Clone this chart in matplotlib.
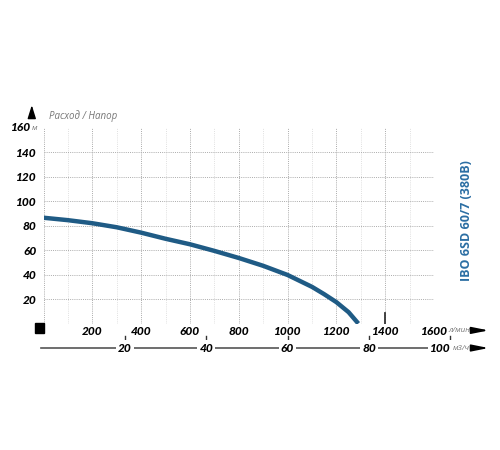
import matplotlib.pyplot as plt
import numpy as np

# pump curve
flow = [0, 100, 200, 300, 400, 500, 600, 700, 800, 900, 1000, 1100, 1150, 1200, 1250, 1290]
head = [86.5, 84.5, 82, 78.7, 74.3, 69.3, 64.8, 59.4, 53.6, 47.2, 39.7, 30.0, 24.0, 17.5, 9.3, 0]

x_ticks = [200, 400, 600, 800, 1000, 1200, 1400, 1600]
y_ticks = [20, 40, 60, 80, 100, 120, 140]
m3h_ticks = [20, 40, 60, 80, 100]
title = "IBO 6SD 60/7 (380В)"

FONT = "Open Sans"
NUMFONT = "Lato"
BLUE = "#1f5b85"
LAB = dict(fontfamily=NUMFONT, fontweight="black", fontstyle="italic", fontsize=8.6)
UNIT = dict(fontfamily=FONT, fontstyle="italic", fontsize=5.8, color="#777777")

fig = plt.figure(figsize=(5, 4.5), dpi=100)
ax = fig.add_axes([0.087, 0.281, 0.781, 0.435])
ax.set_xlim(0, 1600)
ax.set_ylim(0, 160)
for s in ax.spines.values():
    s.set_visible(False)

# grid
for xv in range(100, 1600, 200):
    ax.axvline(xv, color="#e0e0e0", lw=0.7, ls=(0, (1, 1.2)), zorder=1)
for xv in range(0, 1601, 200):
    ax.axvline(xv, color="#ababab", lw=0.7, ls=(0, (1, 1.2)), zorder=1)
for yv in range(0, 141, 20):
    ax.axhline(yv, color="#ababab", lw=0.7, ls=(0, (1, 1.2)), zorder=1)

ax.plot(flow, head, color=BLUE, lw=3.2, solid_capstyle="butt", zorder=3)

# marker at 1400
ax.plot([1400, 1400], [0, 9], color="#333333", lw=1.3, zorder=2)

ax.set_xticks(x_ticks)
ax.set_xticklabels([str(v) for v in x_ticks])
ax.set_yticks(y_ticks)
ax.set_yticklabels([str(v) for v in y_ticks])
ax.tick_params(length=0)
for lab in ax.get_xticklabels() + ax.get_yticklabels():
    lab.set_fontfamily(NUMFONT)
    lab.set_fontweight("black")
    lab.set_fontstyle("italic")
    lab.set_fontsize(8.6)
ax.tick_params(axis="y", pad=5)
ax.tick_params(axis="x", pad=2)

tr = ax.transAxes
# 160 label with unit
ax.text(-0.033, 1.0, "160", transform=tr, ha="right", va="center", **LAB)
ax.text(-0.031, 0.995, "м", transform=tr, ha="left", va="center", **UNIT)

# top label and up arrow
ax.annotate("", xy=(-0.03, 1.13), xytext=(-0.03, 1.065), xycoords=tr,
            arrowprops=dict(arrowstyle="-|>,head_length=0.8,head_width=0.25",
                            color="black", lw=1), annotation_clip=False)
ax.text(0.015, 1.058, "Расход / Напор", transform=tr, ha="left", va="center",
        fontsize=7, fontfamily=FONT, fontstyle="italic", color="#777777")

# square at origin
fig.patches.append(plt.Rectangle((35 / 500, 1 - 333 / 450), 9 / 500, 10 / 450,
                                 transform=fig.transFigure, color="black"))

# l/min unit and arrow
ax.text(1.036, -0.035, "л/мин", transform=tr, ha="left", va="center", **UNIT)
ax.annotate("", xy=(1.14, -0.035), xytext=(1.1, -0.035), xycoords=tr,
            arrowprops=dict(arrowstyle="-|>,head_length=1.0,head_width=0.2",
                            color="black", lw=1.2, shrinkA=0, shrinkB=0),
            annotation_clip=False)

# second scale in m3/h
yb = -0.125
ax.plot([-0.007, 1.09], [yb, yb], transform=tr, color="#555555", lw=1.2, clip_on=False)
for i, v in enumerate(m3h_ticks):
    xf = v * 1000 / 60 / 1600
    ax.plot([xf, xf], [yb + 0.045, yb + 0.06], transform=tr, color="#333333",
            lw=1, clip_on=False)
    last = i == len(m3h_ticks) - 1
    ax.text(xf, yb, str(v), transform=tr, ha="right" if last else "center",
            va="center", bbox=dict(facecolor="white", edgecolor="none", pad=1.5), **LAB)
ax.text(1.049, yb, "м3/ч", transform=tr, ha="left", va="center",
        bbox=dict(facecolor="white", edgecolor="none", pad=1.0), **UNIT)
ax.annotate("", xy=(1.14, yb), xytext=(1.105, yb), xycoords=tr,
            arrowprops=dict(arrowstyle="-|>,head_length=1.0,head_width=0.2",
                            color="black", lw=1.2, shrinkA=0, shrinkB=0),
            annotation_clip=False)

# vertical title
fig.text(0.933, 0.509, title, rotation=90, ha="center", va="center", fontsize=9,
         fontfamily=FONT, fontweight="bold", color="#2b6ea3")

fig.savefig("out.png", dpi=100)
